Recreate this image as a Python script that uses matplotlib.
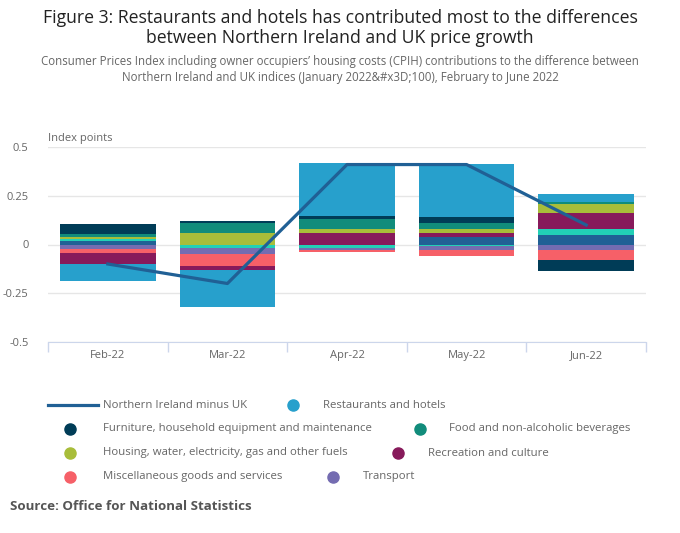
import numpy as np
import matplotlib.pyplot as plt
from matplotlib.lines import Line2D

plt.rcParams['font.family'] = ['Open Sans', 'DejaVu Sans']

months = ["Feb-22", "Mar-22", "Apr-22", "May-22", "Jun-22"]

# stacked contributions (index points), legend order; last series sits nearest zero
series_names = [
    "Restaurants and hotels",
    "Furniture, household equipment and maintenance",
    "Food and non-alcoholic beverages",
    "Housing, water, electricity, gas and other fuels",
    "Recreation and culture",
    "Miscellaneous goods and services",
    "Transport",
    "Clothing and footwear",
    "Alcoholic beverages and tobacco",
]
series_colors = ["#27a0cc", "#003c57", "#118c7b", "#a8bd3a", "#871a5b",
                 "#f66068", "#746cb1", "#22d0b6", "#206095"]

restaurants = [-0.085, -0.188, 0.273, 0.274, 0.043]
furniture = [0.051, 0.012, 0.017, 0.031, -0.056]
food = [0.017, 0.048, 0.051, 0.027, 0.010]
housing = [0.009, 0.060, 0.019, 0.021, 0.049]
recreation = [-0.060, -0.020, 0.060, 0.021, 0.080]
misc = [-0.021, -0.062, -0.012, -0.030, -0.051]
transport = [-0.021, -0.029, -0.006, -0.019, -0.029]
clothing = [0.012, -0.020, -0.020, -0.010, 0.031]
alcohol = [0.018, 0.0, 0.0, 0.039, 0.048]

ni_minus_uk = [-0.10, -0.20, 0.41, 0.41, 0.10]

values = [restaurants, furniture, food, housing, recreation, misc,
          transport, clothing, alcohol]

fig = plt.figure(figsize=(6.8, 5.33), dpi=100)
W, H = 680, 533
ax = fig.add_axes([48 / W, 191 / H, 598 / W, 195 / H])

x = np.arange(len(months))
pos = np.zeros(len(months))
neg = np.zeros(len(months))
for name, vals, col in reversed(list(zip(series_names, values, series_colors))):
    v = np.array(vals)
    bottoms = np.where(v >= 0, pos, neg)
    ax.bar(x, v, bottom=bottoms, width=0.8, color=col, linewidth=0, zorder=2)
    pos = pos + np.where(v >= 0, v, 0)
    neg = neg + np.where(v < 0, v, 0)

ax.plot(x, ni_minus_uk, color="#206095", lw=2.3, zorder=3)

ax.set_xlim(-0.5, len(months) - 0.5)
ax.set_ylim(-0.5, 0.5)
ax.set_yticks([-0.5, -0.25, 0, 0.25, 0.5])
ax.set_yticklabels(["-0.5", "-0.25", "0", "0.25", "0.5"])
ax.grid(axis="y", color="#e6e6e6", lw=1, zorder=0)
ax.set_axisbelow(True)
for s in ["top", "right", "left"]:
    ax.spines[s].set_visible(False)
ax.spines["bottom"].set_color("#ccd6eb")
ax.tick_params(axis="y", length=0, pad=14, labelsize=8, labelcolor="#666666")
ax.set_xticks(x)
ax.set_xticklabels(months)
ax.tick_params(axis="x", which="major", length=0, pad=6, labelsize=8,
               labelcolor="#666666")
ax.set_xticks(np.arange(-0.5, len(months)), minor=True)
ax.tick_params(axis="x", which="minor", length=7, color="#ccd6eb", width=1)

# overlay in pixel coordinates for titles and legend
ov = fig.add_axes([0, 0, 1, 1], facecolor="none")
ov.set_xlim(0, W)
ov.set_ylim(H, 0)
ov.axis("off")

ov.text(340, 18, "Figure 3: Restaurants and hotels has contributed most to the differences",
        ha="center", va="center", fontsize=12.7, color="#222222")
ov.text(340, 38, "between Northern Ireland and UK price growth",
        ha="center", va="center", fontsize=12.7, color="#222222")
ov.text(340, 62, "Consumer Prices Index including owner occupiers\u2019 housing costs (CPIH) "
        "contributions to the difference between",
        ha="center", va="center", fontsize=8.3, color="#666666")
ov.text(340, 77, "Northern Ireland and UK indices (January 2022&#x3D;100), February to June 2022",
        ha="center", va="center", fontsize=8.3, color="#666666")
ov.text(48, 138, "Index points", ha="left", va="center", fontsize=8, color="#666666")

ov.add_line(Line2D([48, 98], [405, 405], color="#206095", lw=2.3))
ov.text(103, 405, "Northern Ireland minus UK", ha="left", va="center",
        fontsize=8.2, color="#666666")

legend_items = [
    (293, 323, 405, 0),
    (70, 103, 429, 1), (420, 449, 429, 2),
    (70, 103, 453, 3), (398, 428, 453, 4),
    (70, 103, 477, 5), (333, 363, 477, 6),
]
for cx, tx, ty, i in legend_items:
    ov.plot([cx], [ty], "o", ms=8, color=series_colors[i])
    ov.text(tx, ty, series_names[i], ha="left", va="center", fontsize=8.2,
            color="#666666")

ov.text(10, 506, "Source: Office for National Statistics", ha="left", va="center",
        fontsize=9.6, fontweight="bold", color="#555555")

fig.savefig("out.png", dpi=100)
